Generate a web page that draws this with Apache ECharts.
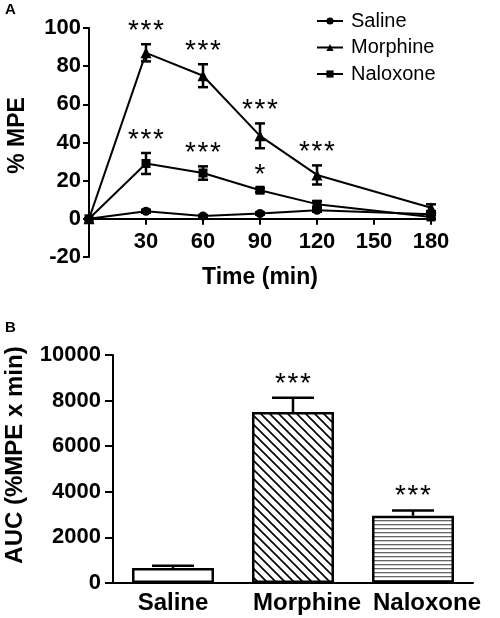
<!DOCTYPE html>
<html>
<head>
<meta charset="utf-8">
<script src="https://cdn.jsdelivr.net/npm/echarts@6/dist/echarts.min.js"></script>
<style>html,body{margin:0;padding:0;background:#fff}#c{width:500px;height:618px}</style>
</head>
<body>
<div id="c"></div>
<script>
// ---- Panel A data ----
const times = [0, 30, 60, 90, 120, 180];
const xTicks = [30, 60, 90, 120, 150, 180];
const salineMean = [0, 4, 1.5, 2.8, 4.5, 2.4];
const salineErr = [0, 0.8, 0.5, 0.6, 0.8, 0.5];
const morphineMean = [0, 87, 75, 43.5, 23, 5.8];
const morphineErr = [0, 4.5, 6, 6.5, 5, 1.8];
const naloxoneMean = [0, 29, 24, 15, 7.7, 1];
const naloxoneErr = [0, 5.5, 3.5, 1, 1.5, 1];
const morphineSig = ['', '***', '***', '***', '***', ''];
const naloxoneSig = ['', '***', '***', '*', '', ''];
const seriesNames = ['Saline', 'Morphine', 'Naloxone'];

// ---- Panel B data ----
const aucCategories = ['Saline', 'Morphine', 'Naloxone'];
const aucMean = [660, 7500, 2950];
const aucErr = [100, 620, 230];
const aucSig = ['', '***', '***'];

const FONT = 'Liberation Sans, Arial, Helvetica, sans-serif';

function diagPattern() {
  const s = 9, c = document.createElement('canvas');
  c.width = s; c.height = s;
  const g = c.getContext('2d');
  g.fillStyle = '#fff'; g.fillRect(0, 0, s, s);
  g.strokeStyle = '#000'; g.lineWidth = 1.6;
  g.beginPath();
  g.moveTo(-1, -1); g.lineTo(s + 1, s + 1);
  g.moveTo(-1, s - 1); g.lineTo(1, s + 1);
  g.moveTo(s - 1, -1); g.lineTo(s + 1, 1);
  g.stroke();
  return c;
}
function horizPattern() {
  const c = document.createElement('canvas');
  c.width = 8; c.height = 4;
  const g = c.getContext('2d');
  g.fillStyle = '#fff'; g.fillRect(0, 0, 8, 4);
  g.fillStyle = '#666'; g.fillRect(0, 0, 8, 1.3);
  return c;
}
const barFills = ['#ffffff', { image: diagPattern(), repeat: 'repeat' }, { image: horizPattern(), repeat: 'repeat' }];
const catLabelShift = [0, 28, 28];

function errData(mean, err, xs) {
  return mean.map((m, i) => [xs[i], m, err[i]]);
}
function sigData(mean, err, sig, xs) {
  return mean.map((m, i) => [xs[i], m + err[i], sig[i].length]).filter(d => d[2] > 0);
}

function errRender(both, capHalf) {
  return function (params, api) {
    const x = api.value(0), y = api.value(1), e = api.value(2);
    const top = api.coord([x, y + e]);
    const bot = both ? api.coord([x, y - e]) : api.coord([x, y]);
    const st = { stroke: '#000', lineWidth: 2.5 };
    const children = [
      { type: 'line', shape: { x1: top[0], y1: top[1], x2: bot[0], y2: bot[1] }, style: st },
      { type: 'line', shape: { x1: top[0] - capHalf, y1: top[1], x2: top[0] + capHalf, y2: top[1] }, style: st }
    ];
    if (both) children.push({ type: 'line', shape: { x1: bot[0] - capHalf, y1: bot[1], x2: bot[0] + capHalf, y2: bot[1] }, style: st });
    return { type: 'group', children: children };
  };
}
function starRender(gap) {
  return function (params, api) {
    const x = api.value(0), y = api.value(1), n = api.value(2);
    const p = api.coord([x, y]);
    const children = [];
    for (let k = 0; k < n; k++) {
      const dx = (k - (n - 1) / 2) * 12.5;
      children.push({ type: 'text', x: p[0] + dx, y: p[1] - gap,
        style: { text: '*', font: '28px ' + FONT, fill: '#000', align: 'center', verticalAlign: 'middle' } });
    }
    return { type: 'group', children: children };
  };
}

const symbols = ['circle', 'triangle', 'rect'];
const means = [salineMean, morphineMean, naloxoneMean];
const errs = [salineErr, morphineErr, naloxoneErr];

const series = [];
seriesNames.forEach((name, i) => {
  series.push({
    name: name, type: 'line', xAxisIndex: 0, yAxisIndex: 0,
    data: times.map((t, j) => [t, means[i][j]]),
    symbol: symbols[i], symbolSize: i === 1 ? 11 : 9,
    lineStyle: { color: '#000', width: 2 },
    itemStyle: { color: '#000' },
    z: 3
  });
  series.push({
    type: 'custom', xAxisIndex: 0, yAxisIndex: 0,
    data: errData(means[i], errs[i], times),
    renderItem: errRender(true, 5), z: 4, silent: true
  });
});
series.push({ type: 'custom', xAxisIndex: 0, yAxisIndex: 0, data: sigData(morphineMean, morphineErr, morphineSig, times), renderItem: starRender(13), z: 5, silent: true });
series.push({ type: 'custom', xAxisIndex: 0, yAxisIndex: 0, data: sigData(naloxoneMean, naloxoneErr, naloxoneSig, times), renderItem: starRender(13), z: 5, silent: true });

series.push({
  type: 'bar', xAxisIndex: 1, yAxisIndex: 1,
  data: aucMean.map((v, i) => ({ value: v, itemStyle: { color: barFills[i] } })),
  barWidth: 82,
  itemStyle: { borderColor: '#000', borderWidth: 2.5 },
  z: 2
});
series.push({
  type: 'custom', xAxisIndex: 1, yAxisIndex: 1,
  data: aucMean.map((m, i) => [i, m, aucErr[i]]),
  renderItem: errRender(false, 21), z: 4, silent: true
});
series.push({
  type: 'custom', xAxisIndex: 1, yAxisIndex: 1,
  data: aucMean.map((m, i) => [i, m + aucErr[i], aucSig[i].length]).filter(d => d[2] > 0),
  renderItem: starRender(14), z: 5, silent: true
});

const axisLine = { show: true, lineStyle: { color: '#000', width: 2 } };
const boldLabel = (size, margin) => ({ color: '#000', fontFamily: FONT, fontWeight: 'bold', fontSize: size, margin: margin });

const option = {
  animation: false,
  backgroundColor: '#fff',
  textStyle: { fontFamily: FONT },
  title: [
    { text: 'A', left: 0, top: -3, textStyle: { fontFamily: FONT, fontWeight: 'bold', fontSize: 15, color: '#000' } },
    { text: 'B', left: 0, top: 315, textStyle: { fontFamily: FONT, fontWeight: 'bold', fontSize: 15, color: '#000' } }
  ],
  legend: {
    data: seriesNames, orient: 'vertical', left: 311, top: 6,
    itemWidth: 26, itemHeight: 9, itemGap: 6.5,
    textStyle: { fontFamily: FONT, fontSize: 20, color: '#000', padding: [0, 0, 0, 3] }
  },
  grid: [
    { left: 89, top: 28, width: 342, height: 229, outerBoundsMode: 'none', containLabel: false },
    { left: 113, top: 355, width: 360, height: 228, outerBoundsMode: 'none', containLabel: false }
  ],
  xAxis: [
    {
      gridIndex: 0, type: 'value', min: 0, max: 180, interval: 30,
      name: 'Time (min)', nameLocation: 'middle', nameGap: 9,
      nameTextStyle: { fontFamily: FONT, fontWeight: 'bold', fontSize: 23, color: '#000' },
      axisLine: Object.assign({ onZero: true }, axisLine),
      axisTick: { show: true, length: 6, lineStyle: { color: '#000', width: 2 } },
      axisLabel: Object.assign(boldLabel(22, -26), { formatter: v => (xTicks.indexOf(v) >= 0 ? String(v) : '') }),
      splitLine: { show: false }
    },
    {
      gridIndex: 1, type: 'category',
      data: aucCategories.map((c, i) => ({ value: c, textStyle: { padding: [0, 0, 0, catLabelShift[i]] } })),
      axisLine: axisLine, axisTick: { show: false },
      axisLabel: Object.assign(boldLabel(24, 8), { interval: 0 }),
      splitLine: { show: false }
    }
  ],
  yAxis: [
    {
      gridIndex: 0, type: 'value', min: -20, max: 100, interval: 20,
      name: '% MPE', nameLocation: 'middle', nameGap: 60,
      nameTextStyle: { fontFamily: FONT, fontWeight: 'bold', fontSize: 23, color: '#000', padding: [0, 0, 0, 14] },
      axisLine: axisLine,
      axisTick: { show: true, length: 6, lineStyle: { color: '#000', width: 2 } },
      axisLabel: Object.assign(boldLabel(22, 8), { formatter: v => String(v) }),
      splitLine: { show: false }
    },
    {
      gridIndex: 1, type: 'value', min: 0, max: 10000, interval: 2000,
      name: 'AUC (%MPE x min)', nameLocation: 'middle', nameGap: 86,
      nameTextStyle: { fontFamily: FONT, fontWeight: 'bold', fontSize: 24, color: '#000', padding: [0, 0, 0, 28] },
      axisLine: axisLine,
      axisTick: { show: true, length: 8, lineStyle: { color: '#000', width: 2 } },
      axisLabel: Object.assign(boldLabel(22, 12), { formatter: v => String(v) }),
      splitLine: { show: false }
    }
  ],
  series: series
};

const chart = echarts.init(document.getElementById('c'), null, { renderer: 'canvas' });
chart.setOption(option);
</script>
</body>
</html>
